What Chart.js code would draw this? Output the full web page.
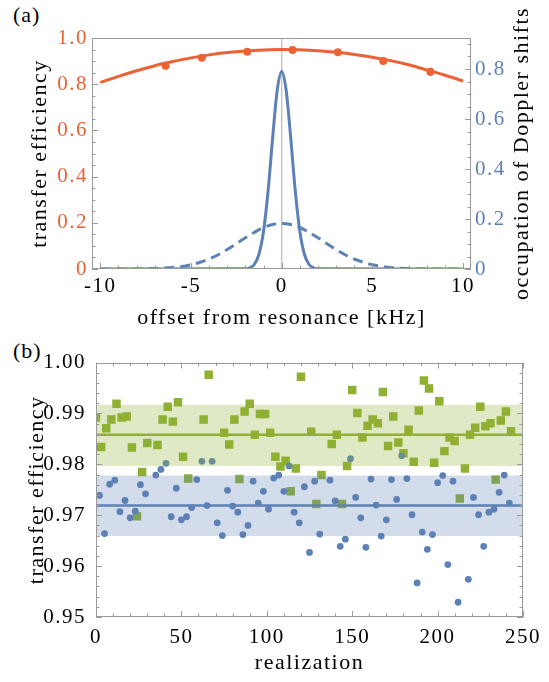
<!DOCTYPE html>
<html>
<head>
<meta charset="utf-8">
<script src="https://cdn.jsdelivr.net/npm/chart.js@4.4.1/dist/chart.umd.min.js"></script>
<style>
  body { margin: 0; background: #fff; width: 549px; height: 682px; position: relative; overflow: hidden;
         font-family: "Liberation Serif", "Times New Roman", serif; }
  canvas { position: absolute; left: 0; }
  #chartA { top: 0; }
  #chartB { top: 340px; }
  .tag { position: absolute; left: 13px; font-size: 22px; letter-spacing: 1px; color: #000; }
</style>
</head>
<body>
<div class="tag" style="top:2px">(a)</div>
<div class="tag" style="top:338px">(b)</div>
<canvas id="chartA" width="549" height="340"></canvas>
<canvas id="chartB" width="549" height="342"></canvas>
<script>
const RED = '#EB6235', BLUE = '#5E81B5', GREEN = '#8FB032', FRAME = '#9a9a9a';

// ---- (a) efficiency and Doppler occupation vs. detuning ----
const detuning = [-10, -9, -8, -7, -6, -5, -4, -3, -2, -1, 0, 1, 2, 3, 4, 5, 6, 7, 8, 9, 10];
const effCurve = [0.808, 0.834, 0.858, 0.880, 0.898, 0.914, 0.927, 0.937, 0.944, 0.948, 0.950,
                  0.949, 0.945, 0.938, 0.929, 0.917, 0.902, 0.884, 0.862, 0.839, 0.814];
const effPtX = [-6.4, -4.4, -1.9, 0.6, 3.1, 5.6, 8.2];
const effPtY = [0.880, 0.915, 0.941, 0.948, 0.938, 0.900, 0.854];
const effPtErr = [0.006, 0.005, 0.004, 0.003, 0.003, 0.005, 0.017];

const narrowX = [-10, -2, -1.75, -1.5, -1.25, -1, -0.75, -0.5, -0.25, 0, 0.25, 0.5, 0.75, 1, 1.25, 1.5, 1.75, 2, 10];
const narrowOcc = [0, 0.001, 0.005, 0.019, 0.060, 0.151, 0.312, 0.523, 0.713, 0.790, 0.713, 0.523, 0.312, 0.151, 0.060, 0.019, 0.005, 0.001, 0];
const wideX = [-10, -9, -8, -7, -6, -5, -4.5, -4, -3.5, -3, -2.5, -2, -1.5, -1, -0.5, 0,
               0.5, 1, 1.5, 2, 2.5, 3, 3.5, 4, 4.5, 5, 6, 7, 8, 9, 10];
const wideOcc = [0, 0, 0.0004, 0.002, 0.006, 0.017, 0.027, 0.040, 0.057, 0.078, 0.101, 0.125, 0.147, 0.166, 0.178, 0.182,
                 0.178, 0.166, 0.147, 0.125, 0.101, 0.078, 0.057, 0.040, 0.027, 0.017, 0.006, 0.002, 0.0004, 0, 0];

const offsetTicks = [-10, -5, 0, 5, 10];
const offsetLabels = ['-10', '-5', '0', '5', '10'];
const effTicks = [0, 0.2, 0.4, 0.6, 0.8, 1.0];
const effLabels = ['0', '0.2', '0.4', '0.6', '0.8', '1.0'];
const occTicks = [0, 0.2, 0.4, 0.6, 0.8];
const occLabels = ['0', '0.2', '0.4', '0.6', '0.8'];

// ---- (b) efficiency per realization ----
const greenX = [0, 3, 6, 9, 12, 15, 18, 21, 24, 27, 30, 36, 39, 42, 45, 48, 51, 54, 63, 66,
                75, 78, 81, 84, 87, 90, 93, 96, 99, 102, 105, 108, 111, 114, 117, 120, 126, 129, 132, 138,
                141, 144, 147, 150, 153, 156, 159, 162, 165, 168, 171, 174, 177, 180, 183, 186, 189, 192, 195, 198,
                201, 204, 207, 210, 213, 216, 219, 222, 225, 228, 231, 234, 237, 240, 243];
const greenY = [0.9892, 0.9834, 0.9871, 0.9888, 0.9919, 0.9892, 0.9894, 0.9833, 0.9698, 0.9785, 0.9842, 0.9838, 0.9888, 0.9913, 0.9884, 0.9922, 0.9815, 0.9772, 0.9888, 0.9976,
                0.9862, 0.9839, 0.9888, 0.9771, 0.9904, 0.9919, 0.9858, 0.9899, 0.9899, 0.9862, 0.9815, 0.9796, 0.9807, 0.9747, 0.9792, 0.9972, 0.9864, 0.9722, 0.9779, 0.9840,
                0.9858, 0.9722, 0.9797, 0.9946, 0.9901, 0.9853, 0.9876, 0.9888, 0.9881, 0.9942, 0.9836, 0.9894, 0.9843, 0.9822, 0.9868, 0.9805, 0.9906, 0.9965, 0.9949, 0.9803,
                0.9924, 0.9826, 0.9853, 0.9846, 0.9733, 0.9792, 0.9858, 0.9872, 0.9913, 0.9875, 0.9881, 0.9770, 0.9886, 0.9904, 0.9865];
const blueX = [2, 5, 8, 11, 14, 17, 20, 23, 26, 29, 35, 38, 41, 44, 47, 50, 53, 56, 59, 62,
               65, 68, 71, 74, 77, 80, 83, 86, 89, 92, 95, 98, 101, 104, 107, 110, 113, 116, 119, 122,
               125, 128, 131, 137, 140, 143, 146, 149, 152, 155, 158, 161, 164, 167, 170, 173, 176, 179, 182, 185,
               188, 191, 194, 197, 200, 203, 206, 209, 212, 218, 221, 224, 227, 230, 233, 236, 239, 242];
const blueY = [0.9739, 0.9664, 0.9761, 0.9769, 0.9707, 0.9729, 0.9695, 0.9708, 0.9760, 0.9742, 0.9779, 0.9790, 0.9802, 0.9697, 0.9753, 0.9691, 0.9697, 0.9715, 0.9770, 0.9806,
               0.9719, 0.9806, 0.9685, 0.9660, 0.9749, 0.9718, 0.9706, 0.9662, 0.9680, 0.9767, 0.9724, 0.9747, 0.9712, 0.9773, 0.9779, 0.9747, 0.9797, 0.9706, 0.9685, 0.9756,
               0.9627, 0.9767, 0.9663, 0.9769, 0.9728, 0.9639, 0.9653, 0.9811, 0.9735, 0.9695, 0.9637, 0.9771, 0.9720, 0.9659, 0.9691, 0.9770, 0.9731, 0.9817, 0.9772, 0.9701,
               0.9567, 0.9667, 0.9633, 0.9662, 0.9764, 0.9778, 0.9603, 0.9767, 0.9529, 0.9574, 0.9735, 0.9701, 0.9639, 0.9706, 0.9712, 0.9745, 0.9779, 0.9724];
const greenMean = 0.9858, greenBand = [0.9797, 0.9917];
const blueMean = 0.9719, blueBand = [0.9659, 0.9778];

const realTicks = [0, 50, 100, 150, 200, 250];
const realLabels = ['0', '50', '100', '150', '200', '250'];
const tbTicks = [0.95, 0.96, 0.97, 0.98, 0.99, 1.00];
const tbLabels = ['0.95', '0.96', '0.97', '0.98', '0.99', '1.00'];

const FONT = '"Liberation Serif", "Times New Roman", serif';
Chart.defaults.font.family = FONT;
const tickFont = { family: FONT, size: 21 };
const titleFont = { family: FONT, size: 22 };

const pts = (xs, ys) => xs.map((x, i) => ({ x, y: ys[i] }));

// frame box, inward ticks, error bars, rotated right-hand title
const frameTicks = {
  id: 'frameTicks',
  beforeUpdate(chart) { chart.ctx.letterSpacing = '1.5px'; },
  beforeDraw(chart) { chart.ctx.letterSpacing = '1.5px'; },
  afterDatasetsDraw(chart, args, opts) {
    const { ctx, chartArea: a } = chart;
    ctx.save();
    ctx.strokeStyle = FRAME;
    ctx.lineWidth = 1;
    ctx.beginPath();
    for (const m of opts.marks || []) {
      const s = chart.scales[m.scale];
      const put = (v, len) => {
        const p = Math.round(s.getPixelForValue(v)) + 0.5;
        for (const side of m.sides) {
          if (side === 'bottom') { ctx.moveTo(p, a.bottom); ctx.lineTo(p, a.bottom - len); }
          if (side === 'top') { ctx.moveTo(p, a.top); ctx.lineTo(p, a.top + len); }
          if (side === 'left') { ctx.moveTo(a.left, p); ctx.lineTo(a.left + len, p); }
          if (side === 'right') { ctx.moveTo(a.right, p); ctx.lineTo(a.right - len, p); }
        }
      };
      const start = Math.ceil(s.min / m.minorStep - 1e-9);
      for (let k = start; k * m.minorStep <= s.max + 1e-9; k++) {
        const v = k * m.minorStep;
        const major = m.major.some(t => Math.abs(t - v) < m.minorStep / 10);
        put(v, major ? 6 : 3.5);
      }
    }
    ctx.stroke();
    ctx.strokeRect(Math.round(a.left) + 0.5, Math.round(a.top) + 0.5,
                   Math.round(a.right - a.left) - 1, Math.round(a.bottom - a.top) - 1);

    chart.data.datasets.forEach((ds, i) => {
      if (!ds.errors) return;
      const meta = chart.getDatasetMeta(i);
      const ys = chart.scales[meta.yAxisID];
      ctx.strokeStyle = ds.borderColor || ds.backgroundColor;
      ctx.lineWidth = 2;
      ctx.beginPath();
      meta.data.forEach((el, j) => {
        const d = ds.data[j];
        ctx.moveTo(el.x, ys.getPixelForValue(d.y + ds.errors[j]));
        ctx.lineTo(el.x, ys.getPixelForValue(d.y - ds.errors[j]));
      });
      ctx.stroke();
    });

    if (opts.sideTitle) {
      const t = opts.sideTitle;
      ctx.fillStyle = '#000';
      ctx.font = `${titleFont.size}px ${FONT}`;
      ctx.letterSpacing = '1.5px';
      ctx.textAlign = 'center';
      ctx.textBaseline = 'middle';
      ctx.translate(t.x, (a.top + a.bottom) / 2);
      ctx.rotate(-Math.PI / 2);
      ctx.fillText(t.text, 0, 0);
    }
    ctx.restore();
  }
};

const fixedTicks = (vals) => (s) => { s.ticks = vals.map(v => ({ value: v })); };

new Chart(document.getElementById('chartA'), {
  type: 'line',
  data: {
    datasets: [
      { data: [{ x: 0, y: 0 }, { x: 0, y: 1 }], yAxisID: 'y', borderColor: '#c4c4c4', borderWidth: 1.5,
        pointRadius: 0, order: 9 },
      { data: pts(wideX, wideOcc), yAxisID: 'y2', borderColor: BLUE, borderWidth: 3, borderDash: [10, 6],
        pointRadius: 0, cubicInterpolationMode: 'monotone', order: 5 },
      { data: pts(narrowX, narrowOcc), yAxisID: 'y2', borderColor: BLUE, borderWidth: 3,
        pointRadius: 0, cubicInterpolationMode: 'monotone', order: 4 },
      { data: pts(detuning, effCurve), yAxisID: 'y', borderColor: RED, borderWidth: 3,
        pointRadius: 0, cubicInterpolationMode: 'monotone', order: 3 },
      { data: pts(effPtX, effPtY), errors: effPtErr, yAxisID: 'y', showLine: false,
        pointRadius: 4, pointBackgroundColor: RED, pointBorderWidth: 0, borderColor: RED, order: 2 }
    ]
  },
  options: {
    responsive: false, animation: false, events: [],
    layout: { padding: { top: 38, left: 0, right: 0, bottom: 0 } },
    plugins: {
      legend: { display: false }, tooltip: { enabled: false },
      frameTicks: {
        marks: [
          { scale: 'x', sides: ['bottom'], major: offsetTicks, minorStep: 1 },
          { scale: 'y', sides: ['left'], major: effTicks, minorStep: 0.05 },
          { scale: 'y2', sides: ['right'], major: occTicks, minorStep: 0.05 }
        ],
        sideTitle: { text: 'occupation of Doppler shifts', x: 522 }
      }
    },
    scales: {
      x: {
        type: 'linear', min: -10.46, max: 10.44,
        grid: { display: false, drawTicks: false }, border: { display: false },
        afterBuildTicks: fixedTicks(offsetTicks),
        ticks: { autoSkip: false, maxRotation: 0, padding: 5, color: '#000', font: tickFont,
                 callback: (v, i) => offsetLabels[i] },
        title: { display: true, text: 'offset from resonance [kHz]', color: '#000', font: titleFont,
                 padding: { top: 0, bottom: 9 } },
        afterFit: (s) => { s.height = 71; }
      },
      y: {
        position: 'left', min: 0, max: 1,
        grid: { display: false, drawTicks: false }, border: { display: false },
        afterBuildTicks: fixedTicks(effTicks),
        ticks: { autoSkip: false, padding: 4, color: RED, font: tickFont, callback: (v, i) => effLabels[i] },
        title: { display: true, text: 'transfer efficiency', color: '#000', font: titleFont,
                 padding: { top: 27, bottom: 0 } },
        afterFit: (s) => { s.width = 92; }
      },
      y2: {
        position: 'right', min: 0, max: 0.924,
        grid: { display: false, drawTicks: false }, border: { display: false },
        afterBuildTicks: fixedTicks(occTicks),
        ticks: { autoSkip: false, padding: 4, color: BLUE, font: tickFont, callback: (v, i) => occLabels[i] },
        afterFit: (s) => { s.width = 78; }
      }
    }
  },
  plugins: [frameTicks]
});

new Chart(document.getElementById('chartB'), {
  type: 'line',
  data: {
    datasets: [
      { data: pts(greenX, greenY), showLine: false, pointStyle: 'rect', pointRadius: 6,
        pointBackgroundColor: GREEN, pointBorderWidth: 0, order: 8 },
      { data: pts(blueX, blueY), showLine: false, pointStyle: 'circle', pointRadius: 3.4,
        pointBackgroundColor: BLUE, pointBorderWidth: 0, order: 7 },
      { data: [{ x: 0, y: greenBand[1] }, { x: 250, y: greenBand[1] }], fill: '+1',
        backgroundColor: 'rgba(143,176,50,0.28)', borderWidth: 0, pointRadius: 0, order: 5 },
      { data: [{ x: 0, y: greenBand[0] }, { x: 250, y: greenBand[0] }], fill: false,
        borderWidth: 0, pointRadius: 0, order: 5 },
      { data: [{ x: 0, y: blueBand[1] }, { x: 250, y: blueBand[1] }], fill: '+1',
        backgroundColor: 'rgba(94,129,181,0.28)', borderWidth: 0, pointRadius: 0, order: 4 },
      { data: [{ x: 0, y: blueBand[0] }, { x: 250, y: blueBand[0] }], fill: false,
        borderWidth: 0, pointRadius: 0, order: 4 },
      { data: [{ x: 0, y: greenMean }, { x: 250, y: greenMean }], borderColor: GREEN, borderWidth: 2.5,
        pointRadius: 0, order: 2 },
      { data: [{ x: 0, y: blueMean }, { x: 250, y: blueMean }], borderColor: BLUE, borderWidth: 2.5,
        pointRadius: 0, order: 1 }
    ]
  },
  options: {
    responsive: false, animation: false, events: [],
    layout: { padding: { top: 17, left: 0, right: 19, bottom: 0 } },
    plugins: {
      legend: { display: false }, tooltip: { enabled: false },
      frameTicks: {
        marks: [
          { scale: 'x', sides: ['bottom', 'top'], major: realTicks, minorStep: 10 },
          { scale: 'y', sides: ['left', 'right'], major: tbTicks, minorStep: 0.002 }
        ]
      }
    },
    scales: {
      x: {
        type: 'linear', min: 0, max: 250,
        grid: { display: false, drawTicks: false }, border: { display: false },
        afterBuildTicks: fixedTicks(realTicks),
        ticks: { autoSkip: false, maxRotation: 0, padding: 8, color: '#000', font: tickFont,
                 callback: (v, i) => realLabels[i] },
        title: { display: true, text: 'realization', color: '#000', font: titleFont,
                 padding: { top: 0, bottom: 6 } },
        afterFit: (s) => { s.height = 65; }
      },
      y: {
        min: 0.95, max: 1.0,
        grid: { display: false, drawTicks: false }, border: { display: false },
        afterBuildTicks: fixedTicks(tbTicks),
        ticks: { autoSkip: false, padding: 10, color: '#000', font: tickFont, callback: (v, i) => tbLabels[i] },
        title: { display: true, text: 'transfer efficiency', color: '#000', font: titleFont,
                 padding: { top: 24, bottom: 0 } },
        afterFit: (s) => { s.width = 96; }
      }
    }
  },
  plugins: [frameTicks]
});
</script>
</body>
</html>
